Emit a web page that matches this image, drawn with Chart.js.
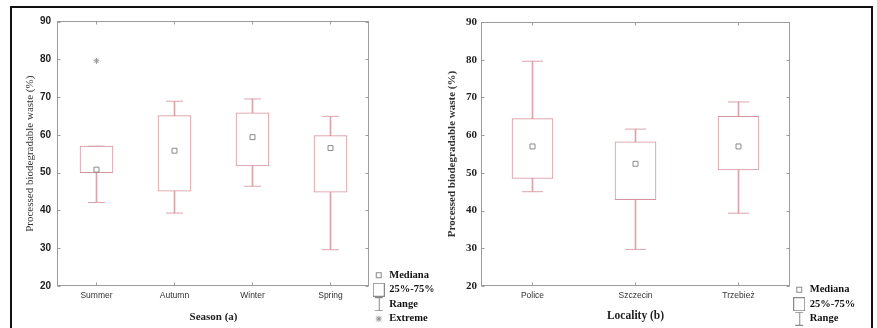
<!DOCTYPE html>
<html>
<head>
<title>Processed biodegradable waste</title>
<script src="https://cdn.jsdelivr.net/npm/chart.js"></script>
<style>
    body { margin: 0; background: #fff; width: 877px; height: 328px; overflow: hidden; position: relative; }
    #frame { position: absolute; left: 10px; top: 6px; width: 863px; height: 340px; border: 2px solid #111; box-sizing: border-box; }
    .panel { position: absolute; top: 9px; height: 319px; }
    #leftPanel { left: 13px; width: 424px; }
    #rightPanel { left: 437px; width: 434px; }
</style>
</head>
<body>
<div id="frame"></div>
<div class="panel" id="leftPanel"><canvas id="seasonChart"></canvas></div>
<div class="panel" id="rightPanel"><canvas id="localityChart"></canvas></div>

<script>
// y axis
const yMin = 20;
const yMax = 90;
const yStep = 10;

// (a) season
const seasons = ['Summer', 'Autumn', 'Winter', 'Spring'];
const seasonMin = [42.1, 39.3, 46.4, 29.6];
const seasonQ1 = [50, 45.1, 51.8, 44.8];
const seasonMedian = [50.8, 55.8, 59.4, 56.5];
const seasonQ3 = [57, 65.1, 65.8, 59.8];
const seasonMax = [57, 68.9, 69.5, 64.9];
const seasonExtreme = [79.6, null, null, null];

// (b) locality
const localities = ['Police', 'Szczecin', 'Trzebież'];
const localityMin = [45, 29.7, 39.3];
const localityQ1 = [48.5, 42.9, 50.8];
const localityMedian = [57, 52.4, 57];
const localityQ3 = [64.4, 58.2, 65];
const localityMax = [79.6, 61.6, 68.8];

const boxColor = '#d4939d';
const whiskerColor = '#dba4ac';
const markGrey = '#8a8a8a';

// little pictures for the legend
function symbol(kind) {
    const c = document.createElement('canvas');
    c.width = 12; c.height = 14;
    const g = c.getContext('2d');
    g.strokeStyle = markGrey;
    g.lineWidth = 1;
    if (kind === 'median') {
        g.strokeRect(3.5, 4.5, 5, 5);
    } else if (kind === 'box') {
        g.strokeRect(0.5, 0.5, 11, 13);
    } else if (kind === 'range') {
        g.beginPath();
        g.moveTo(2, 0.5); g.lineTo(10, 0.5);
        g.moveTo(6.5, 0.5); g.lineTo(6.5, 13.5);
        g.moveTo(2, 13.5); g.lineTo(10, 13.5);
        g.stroke();
    } else {
        g.beginPath();
        g.moveTo(3.5, 4.5); g.lineTo(8.5, 9.5);
        g.moveTo(8.5, 4.5); g.lineTo(3.5, 9.5);
        g.moveTo(6, 4); g.lineTo(6, 10);
        g.moveTo(3, 7); g.lineTo(9, 7);
        g.stroke();
    }
    return c;
}

// plot frame with small inward ticks
const framePlugin = {
    id: 'frame',
    afterDraw(chart) {
        const { ctx, chartArea: a, scales: { x, y } } = chart;
        const l = Math.floor(a.left) + 0.5, r = Math.floor(a.right) - 0.5;
        const t = Math.floor(a.top) + 0.5, b = Math.floor(a.bottom) - 0.5;
        ctx.save();
        ctx.strokeStyle = '#9c9c9c';
        ctx.lineWidth = 1;
        ctx.strokeRect(l, t, r - l, b - t);
        ctx.beginPath();
        x.ticks.forEach((tk, i) => {
            const px = Math.floor(x.getPixelForTick(i)) + 0.5;
            ctx.moveTo(px, b); ctx.lineTo(px, b - 3);
            ctx.moveTo(px, t); ctx.lineTo(px, t + 3);
        });
        y.ticks.forEach((tk, i) => {
            const py = Math.round(y.getPixelForTick(i)) + 0.5;
            ctx.moveTo(l, py); ctx.lineTo(l + 3, py);
            ctx.moveTo(r, py); ctx.lineTo(r - 3, py);
        });
        ctx.stroke();
        ctx.restore();
    }
};

function boxChart(id, labels, lo, q1, med, q3, hi, extreme, look) {
    const datasets = [
        { type: 'bar', data: labels.map((_, i) => [lo[i], hi[i]]), backgroundColor: whiskerColor,
          borderWidth: 0, barThickness: 1, grouped: false, order: 3 },
        { type: 'bar', data: labels.map((_, i) => [q1[i], q3[i]]), backgroundColor: '#fff',
          borderColor: boxColor, borderWidth: 1, borderSkipped: false, barThickness: look.boxWidth,
          grouped: false, order: 2 },
        { type: 'line', data: lo, showLine: false, pointStyle: 'line', pointRadius: look.cap,
          pointBorderColor: whiskerColor, pointBorderWidth: 1, order: 1 },
        { type: 'line', data: hi, showLine: false, pointStyle: 'line', pointRadius: look.cap,
          pointBorderColor: whiskerColor, pointBorderWidth: 1, order: 1 },
        { type: 'line', data: med, showLine: false, pointStyle: 'rect', pointRadius: 3.5,
          pointBackgroundColor: '#fff', pointBorderColor: markGrey, pointBorderWidth: 1, order: 0 }
    ];
    if (extreme) {
        datasets.push({ type: 'line', data: extreme, showLine: false, pointStyle: 'star', pointRadius: 3,
            pointBorderColor: '#999', pointBorderWidth: 1, order: 0 });
    }

    const legendItems = [
        { text: 'Mediana', img: symbol('median') },
        { text: '25%-75%', img: symbol('box') },
        { text: 'Range', img: symbol('range') }
    ];
    if (extreme) legendItems.push({ text: 'Extreme', img: symbol('extreme') });

    return new Chart(document.getElementById(id), {
        type: 'bar',
        data: { labels: labels, datasets: datasets },
        options: {
            responsive: true,
            maintainAspectRatio: false,
            animation: false,
            events: [],
            layout: { padding: { top: look.top, right: look.padRight, left: 0, bottom: 0 } },
            plugins: {
                tooltip: { enabled: false },
                legend: {
                    position: 'right',
                    align: 'end',
                    maxWidth: look.legendWidth,
                    onClick: () => {},
                    labels: {
                        usePointStyle: true,
                        padding: 4,
                        color: '#111',
                        font: { family: 'Liberation Serif', size: 10.5, weight: 'bold' },
                        generateLabels: () => legendItems.map((it, i) => ({
                            text: it.text, pointStyle: it.img, fillStyle: '#fff', strokeStyle: markGrey,
                            lineWidth: 0, hidden: false, fontColor: '#111', datasetIndex: i
                        }))
                    }
                }
            },
            scales: {
                x: {
                    grid: { display: false, drawTicks: false },
                    border: { display: false },
                    ticks: { color: '#333', padding: 5, font: look.xFont },
                    title: { display: true, text: look.xTitle, color: '#222', font: look.xTitleFont,
                             padding: { top: 0, bottom: look.xTitlePad } },
                    afterFit(s) { s.height = 42; }
                },
                y: {
                    min: yMin,
                    max: yMax,
                    grid: { display: false, drawTicks: false },
                    border: { display: false },
                    ticks: { stepSize: yStep, color: '#222', padding: look.yPad, font: look.yFont },
                    title: { display: true, text: 'Processed biodegradable waste (%)', color: '#333',
                             font: look.yTitleFont, padding: { top: look.yTitlePad, bottom: 0 } },
                    afterFit(s) { s.width = look.yWidth; }
                }
            }
        },
        plugins: [framePlugin]
    });
}

boxChart('seasonChart', seasons, seasonMin, seasonQ1, seasonMedian, seasonQ3, seasonMax, seasonExtreme, {
    boxWidth: 33, cap: 8.5, top: 12, padRight: 3.5, legendWidth: 64, yWidth: 44.5,
    xTitle: 'Season (a)',
    xFont: { family: 'Liberation Sans', size: 8.5 },
    xTitleFont: { family: 'Liberation Serif', size: 11, weight: 'bold' },
    xTitlePad: 4.4,
    yFont: { family: 'Liberation Sans', size: 10, weight: 'bold' },
    yPad: 6.5,
    yTitleFont: { family: 'Liberation Serif', size: 11 },
    yTitlePad: 10.4
});

boxChart('localityChart', localities, localityMin, localityQ1, localityMedian, localityQ3, localityMax, null, {
    boxWidth: 41, cap: 10.5, top: 13, padRight: 11, legendWidth: 70, yWidth: 44,
    xTitle: 'Locality (b)',
    xFont: { family: 'Liberation Sans', size: 8.5 },
    xTitleFont: { family: 'Liberation Serif', size: 11.5, weight: 'bold' },
    xTitlePad: 5.1,
    yFont: { family: 'Liberation Serif', size: 11, weight: 'bold' },
    yPad: 4,
    yTitleFont: { family: 'Liberation Serif', size: 11, weight: 'bold' },
    yTitlePad: 8.4
});
</script>
</body>
</html>
